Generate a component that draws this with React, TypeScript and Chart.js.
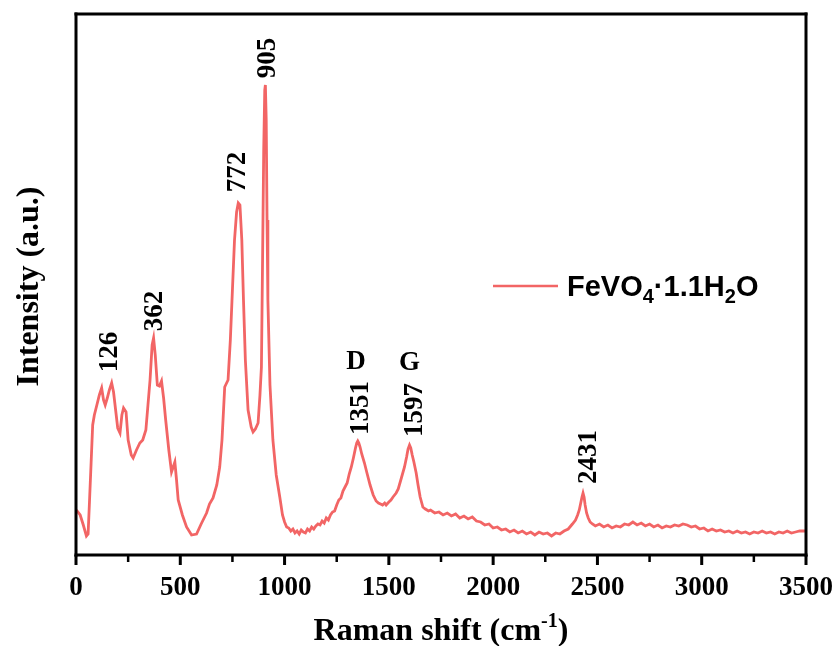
import React, { useEffect, useRef } from "react";
import { Chart, registerables } from "chart.js";

Chart.register(...registerables);

// Raman spectrum of FeVO4·1.1H2O
const ramanShift = [
  2, 20, 35, 50, 58, 65, 72, 80, 88, 100, 112, 123, 132, 140, 150, 160, 171, 180, 190, 200,
  211, 220, 228, 240, 250, 265, 274, 290, 306, 320, 335, 345, 355, 365, 372, 380, 390, 400, 410, 420,
  430, 445, 458, 466, 474, 482, 490, 510, 530, 554, 578, 600, 626, 640, 657, 675, 689, 700, 713, 729,
  740, 750, 760, 770, 778, 786, 795, 803, 812, 825, 840, 849, 860, 873, 882, 889, 895, 900, 905, 908,
  912, 916, 920, 930, 944, 960, 977, 990, 1000, 1010, 1020, 1030, 1040, 1050, 1060, 1070, 1080, 1090, 1100, 1110,
  1120, 1130, 1140, 1150, 1160, 1170, 1180, 1190, 1200, 1210, 1220, 1230, 1240, 1250, 1260, 1270, 1280, 1290, 1300, 1310,
  1320, 1330, 1340, 1346, 1351, 1356, 1362, 1370, 1383, 1395, 1410, 1425, 1439, 1450, 1460, 1470, 1480, 1487, 1500, 1510,
  1520, 1535, 1545, 1560, 1575, 1585, 1592, 1599, 1605, 1612, 1620, 1631, 1640, 1650, 1663, 1675, 1690, 1700, 1720, 1740,
  1760, 1780, 1800, 1820, 1840, 1860, 1880, 1900, 1920, 1940, 1960, 1980, 2000, 2020, 2040, 2060, 2080, 2100, 2120, 2140,
  2160, 2180, 2200, 2220, 2240, 2260, 2280, 2300, 2320, 2340, 2360, 2380, 2395, 2405, 2413, 2420, 2426, 2431, 2436, 2441,
  2448, 2456, 2465, 2476, 2490, 2510, 2530, 2550, 2570, 2590, 2610, 2630, 2650, 2670, 2690, 2710, 2730, 2750, 2770, 2790,
  2810, 2830, 2850, 2870, 2890, 2910, 2930, 2950, 2970, 2990, 3010, 3030, 3050, 3070, 3090, 3110, 3130, 3150, 3170, 3190,
  3210, 3230, 3250, 3270, 3290, 3310, 3330, 3350, 3370, 3390, 3410, 3430, 3450, 3470, 3495,
];

const intensity = [
  45, 40, 30, 19, 21, 55, 90, 130, 140, 150, 160, 167, 155, 150, 157, 165, 172, 163, 145, 127,
  122, 140, 147, 143, 115, 100, 97, 105, 112, 115, 125, 150, 175, 210, 217, 200, 170, 169, 174, 157,
  135, 105, 83, 88, 93, 75, 55, 40, 28, 20, 21, 31, 42, 51, 57, 70, 88, 115, 168, 175,
  215, 265, 315, 343, 352, 350, 315, 255, 195, 145, 128, 123, 126, 132, 160, 188, 305, 405, 465, 470,
  435, 335, 255, 170, 115, 80, 58, 40, 33, 28, 27, 24, 26, 22, 24, 21, 25, 23, 22, 26,
  24, 28, 26, 29, 31, 30, 34, 32, 37, 35, 40, 43, 44, 50, 55, 57, 64, 68, 72, 81,
  88, 97, 107, 112, 114, 112, 108, 101, 92, 82, 70, 60, 54, 52, 51, 50, 52, 50, 53, 55,
  58, 62, 66, 77, 88, 98, 106, 110, 107, 100, 93, 82, 70, 58, 48, 46, 44, 45, 42, 43,
  40, 42, 39, 41, 37, 39, 36, 38, 34, 33, 30, 31, 27, 28, 25, 26, 23, 25, 22, 24,
  21, 23, 20, 23, 21, 22, 19, 22, 21, 24, 26, 31, 35, 40, 45, 52, 58, 62, 58, 50,
  42, 37, 33, 31, 29, 31, 28, 30, 27, 29, 28, 31, 30, 33, 30, 32, 29, 31, 28, 30,
  27, 29, 28, 30, 29, 31, 30, 28, 29, 26, 27, 24, 26, 24, 25, 23, 24, 22, 24, 22,
  23, 21, 23, 22, 24, 22, 23, 21, 23, 22, 24, 22, 23, 24, 24,
];

const xTickValues = [0, 500, 1000, 1500, 2000, 2500, 3000, 3500];
const xMinorTickValues = [250, 750, 1250, 1750, 2250, 2750, 3250];

// peak annotations (rotated numbers) – anchor in data units
const peakLabels = ["126", "362", "772", "905", "1351", "1597", "2431"];
const peakLabelX = [195, 412, 809, 953, 1398, 1661, 2493];
const peakLabelY = [203, 244, 383, 497, 147, 145, 98];

// band letters
const bandLabels = ["D", "G"];
const bandLabelX = [1343, 1599];
const bandLabelY = [186, 185];

const seriesName = ["FeVO", "4", "·1.1H", "2", "O"]; // normal, sub, normal, sub, normal
const lineColor = "#f26565";

const SERIF = '"Liberation Serif", "Times New Roman", serif';
const SANS = '"Liberation Sans", Arial, sans-serif';

const decorPlugin = {
  id: "decor",
  afterDraw(chart: any) {
    const { ctx, chartArea } = chart;
    const xs = chart.scales.x;
    const ys = chart.scales.y;
    ctx.save();
    // frame
    ctx.fillStyle = "#000";
    const L = chartArea.left, R = chartArea.right, T = chartArea.top, B = chartArea.bottom;
    ctx.fillRect(L - 1.5, T - 1.5, R - L + 3, 3);
    ctx.fillRect(L - 1.5, B - 1.5, R - L + 3, 3);
    ctx.fillRect(L - 1.5, T - 1.5, 3, B - T + 3);
    ctx.fillRect(R - 1.5, T - 1.5, 3, B - T + 3);
    // ticks
    xTickValues.forEach((v) => {
      const px = xs.getPixelForValue(v);
      ctx.fillRect(px - 1.5, B, 3, 10);
    });
    xMinorTickValues.forEach((v) => {
      const px = xs.getPixelForValue(v);
      ctx.fillRect(px - 1.25, B, 2.5, 7);
    });
    // peak labels
    ctx.font = `bold 27px ${SERIF}`;
    ctx.textAlign = "center";
    ctx.textBaseline = "alphabetic";
    peakLabels.forEach((t, i) => {
      const px = xs.getPixelForValue(peakLabelX[i]);
      const py = ys.getPixelForValue(peakLabelY[i]);
      ctx.save();
      ctx.translate(px, py);
      ctx.rotate(-Math.PI / 2);
      ctx.fillText(t, 0, 0);
      ctx.restore();
    });
    bandLabels.forEach((t, i) => {
      const px = xs.getPixelForValue(bandLabelX[i]);
      const py = ys.getPixelForValue(bandLabelY[i]);
      ctx.fillText(t, px, py);
    });
    // y title
    ctx.font = `bold 32px ${SERIF}`;
    ctx.save();
    ctx.translate(38, (T + B) / 2 + 2);
    ctx.rotate(-Math.PI / 2);
    ctx.textAlign = "center";
    ctx.fillText("Intensity (a.u.)", 0, 0);
    ctx.restore();
    // x title with superscript
    const main = "Raman shift (cm";
    const sup = "-1";
    const tail = ")";
    ctx.font = `bold 32px ${SERIF}`;
    const w1 = ctx.measureText(main).width;
    const w3 = ctx.measureText(tail).width;
    ctx.font = `bold 20px ${SERIF}`;
    const w2 = ctx.measureText(sup).width;
    const total = w1 + w2 + w3;
    let x0 = (L + R) / 2 - total / 2;
    const by = 640;
    ctx.textAlign = "left";
    ctx.font = `bold 32px ${SERIF}`;
    ctx.fillText(main, x0, by);
    x0 += w1;
    ctx.font = `bold 20px ${SERIF}`;
    ctx.fillText(sup, x0, by - 13);
    x0 += w2;
    ctx.font = `bold 32px ${SERIF}`;
    ctx.fillText(tail, x0, by);
    // legend
    ctx.fillStyle = lineColor;
    ctx.fillRect(493, 284.75, 65, 2.5);
    ctx.fillStyle = "#000";
    let lx = 567;
    const lb = 296;
    seriesName.forEach((part, i) => {
      const isSub = i % 2 === 1;
      ctx.font = isSub ? `bold 20px ${SANS}` : `bold 29px ${SANS}`;
      ctx.fillText(part, lx, isSub ? lb + 7 : lb);
      lx += ctx.measureText(part).width;
    });
    ctx.restore();
  },
};

export default function App() {
  const ref = useRef<HTMLCanvasElement>(null);
  useEffect(() => {
    if (!ref.current) return;
    const chart = new Chart(ref.current, {
      type: "line",
      data: {
        datasets: [
          {
            label: "FeVO4·1.1H2O",
            data: ramanShift.map((x, i) => ({ x, y: intensity[i] })),
            borderColor: lineColor,
            borderWidth: 2.8,
            pointRadius: 0,
            tension: 0,
            fill: false,
          },
        ],
      },
      options: {
        responsive: false,
        animation: false,
        layout: { padding: { top: 14, right: 32, left: 0, bottom: 0 } },
        plugins: { legend: { display: false }, tooltip: { enabled: false } },
        scales: {
          x: {
            type: "linear",
            min: 0,
            max: 3500,
            afterBuildTicks: (scale: any) => {
              scale.ticks = xTickValues.map((v) => ({ value: v }));
            },
            afterFit: (scale: any) => {
              scale.height = 91;
            },
            ticks: {
              color: "#000",
              font: { family: SERIF, size: 27, weight: "bold" },
              padding: 7,
              maxRotation: 0,
              autoSkip: false,
              callback: (v: any) => String(v),
            },
            grid: {
              display: true,
              drawOnChartArea: false,
              drawTicks: true,
              tickLength: 10,
              tickColor: "rgba(0,0,0,0)",
            },
            border: { display: false },
          },
          y: {
            type: "linear",
            min: 0,
            max: 541,
            afterFit: (scale: any) => {
              scale.width = 76;
            },
            ticks: { display: false },
            grid: { display: false },
            border: { display: false },
          },
        },
      },
      plugins: [decorPlugin],
    });
    return () => chart.destroy();
  }, []);
  return (
    <div style={{ position: "fixed", left: 0, top: 0, width: 840, height: 646, background: "#fff" }}>
      <canvas ref={ref} width={840} height={646} />
    </div>
  );
}
